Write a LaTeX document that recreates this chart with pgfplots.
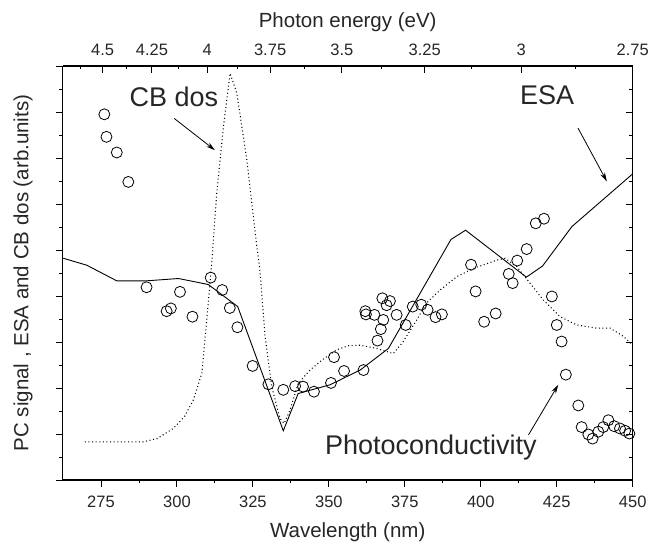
\documentclass[border=0pt]{standalone}
\usepackage{fontspec}
\setmainfont{Liberation Sans}
\usepackage{pgfplots}
\pgfplotsset{compat=1.18}
\usetikzlibrary{arrows.meta}
\begin{document}
\begin{tikzpicture}
\pgfplotsset{
  common/.style={
    scale only axis, width=570pt, height=414pt,
    xmin=262.4, xmax=450, ymin=0, ymax=9,
    ytick={0,1,...,9}, yticklabels={}, minor y tick num=1,
    major tick length=7pt, minor tick length=3.5pt,
    tick style={black, line width=0.9pt},
    axis line style={line width=1.2pt},
    /pgf/number format/assume math mode=true,
    ticklabel style={font=\fontsize{16.5}{19}\selectfont, text=black!85},
    label style={font=\fontsize{20.5}{24}\selectfont, text=black!85},
  }
}
\begin{axis}[common, name=ax,
  axis x line*=bottom, axis y line*=left, tick align=outside,
  xtick={275,300,...,450}, minor x tick num=1,
  xticklabel style={yshift=-5pt},
  xlabel={Wavelength (nm)}, ylabel={PC signal , ESA and CB dos (arb.units)},
  xlabel style={at={(axis description cs:0.5,-0.1256)}, anchor=center},
  ylabel style={at={(axis description cs:-0.0696,0.5)}, anchor=center},
  clip=true]
% ESA
\addplot[black, line width=0.9pt] coordinates {
(262.6,4.82) (270.3,4.67) (280.2,4.33) (290.0,4.33) (300.5,4.38) (310.3,4.25)
(320.0,3.77) (335.0,1.07) (339.9,1.88) (350.4,2.07) (360.3,2.39) (369.6,2.86)
(390.2,5.23) (395.0,5.43) (415.0,4.41) (420.3,4.65) (430.0,5.51) (449.9,6.65)};
% CB dos
\addplot[black, line width=1.05pt, dash pattern=on 1pt off 2.6pt] coordinates {
(269.7,0.83) (288.9,0.83) (293.5,0.90) (298.8,1.12) (302.5,1.38) (305.4,1.74) (308.2,2.32)
(309.8,3.48) (311.4,4.67) (313.1,6.23) (315.3,7.68) (317.5,8.84) (319.7,8.41)
(323.0,6.96) (326.3,5.07) (327.3,4.57) (329.0,3.12) (331.2,2.03) (333.9,1.34)
(335.3,1.23) (337.2,1.52) (339.9,2.10) (343.8,2.39) (348.0,2.62) (352.6,2.83) (356.5,2.92) (360.3,2.93)
(365.7,2.86) (371.2,2.75) (374.5,3.01) (378.9,3.48) (382.2,3.85) (386.6,4.13)
(392.1,4.42) (397.6,4.60) (405.3,4.78) (408.0,4.82) (411.8,4.64) (416.2,4.28)
(420.6,3.91) (426.1,3.55) (431.6,3.37) (438.2,3.30) (442.6,3.30) (447.0,3.12) (450,2.93)};
% Photoconductivity
\addplot[only marks, mark=o, mark size=5.5pt, mark options={black, line width=0.8pt}] coordinates {
(276.1,7.95) (276.8,7.46) (280.2,7.12) (284.0,6.48) (290.0,4.19) (296.6,3.67)
(298.0,3.73) (301.0,4.09) (305.1,3.55) (311.1,4.40) (314.9,4.13) (317.4,3.74)
(319.9,3.32) (324.9,2.48) (330.1,2.08) (335.0,1.96) (338.9,2.04) (341.5,2.03)
(345.1,1.92) (350.7,2.11) (351.7,2.67) (355.0,2.37) (361.4,2.39) (362.0,3.67)
(362.2,3.60) (365.0,3.59) (366.0,3.03) (367.1,3.28) (367.6,3.95) (367.9,3.48)
(369.0,3.80) (370.1,3.89) (372.3,3.59) (375.3,3.37) (377.6,3.77) (380.4,3.81)
(382.5,3.70) (385.1,3.54) (387.2,3.60) (396.8,4.68) (398.3,4.10) (401.1,3.44)
(404.9,3.62) (409.2,4.48) (410.5,4.28) (412.0,4.77) (415.1,5.02) (418.1,5.58)
(420.8,5.68) (423.4,3.99) (425.0,3.37) (426.6,3.01) (428.0,2.29) (432.1,1.62)
(433.2,1.15) (435.4,0.99) (436.8,0.90) (438.7,1.05) (440.3,1.15) (442.0,1.30)
(443.9,1.17) (445.8,1.12) (447.5,1.07) (448.9,1.01)};
\node[font=\fontsize{27}{32}\selectfont, text=black!85] at (axis cs:299.0,8.33) {CB dos};
\draw[-{Stealth[length=9pt,width=5pt]}, line width=0.8pt] (axis cs:299.1,7.86) -- (axis cs:312.5,7.17);
\node[font=\fontsize{27}{32}\selectfont, text=black!85] at (axis cs:421.8,8.37) {ESA};
\draw[-{Stealth[length=9pt,width=5pt]}, line width=0.8pt] (axis cs:432.0,7.65) -- (axis cs:441.5,6.49);
\node[font=\fontsize{27}{32}\selectfont, text=black!85] at (axis cs:383.6,0.70) {Photoconductivity};
\draw[-{Stealth[length=9pt,width=5pt]}, line width=0.8pt] (axis cs:415.7,0.98) -- (axis cs:425.5,2.07);
\end{axis}
\begin{axis}[common,
  axis x line*=top, axis y line*=right, tick align=inside,
  xtick={275.56,291.76,310,330.67,354.29,381.54,413.33,450},
  xticklabels={4.5,4.25,4,3.75,3.5,3.25,3,2.75},
  minor xtick={268.11,283.43,300.61,320.0,342.07,367.41,396.8,431.30},
  xticklabel style={yshift=7pt},
  xlabel={Photon energy (eV)},
  xlabel style={at={(axis description cs:0.5,1.1063)}, anchor=center}]
\end{axis}
\pgfresetboundingbox
\path ([xshift=-62.7pt,yshift=-67pt]ax.south west) rectangle ([xshift=17.3pt,yshift=66pt]ax.north east);
\end{tikzpicture}
\end{document}
